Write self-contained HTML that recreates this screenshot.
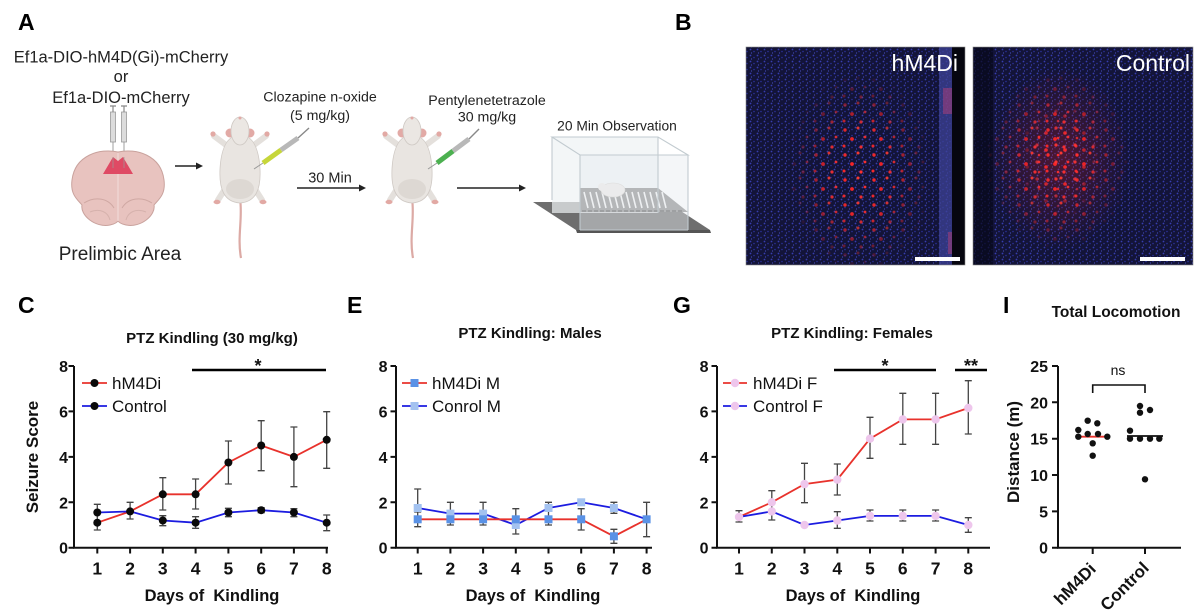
<!DOCTYPE html>
<html><head><meta charset="utf-8"><style>html,body{margin:0;padding:0;background:#fff}svg{display:block}</style></head>
<body>
<svg width="1200" height="612" viewBox="0 0 1200 612" xmlns="http://www.w3.org/2000/svg" font-family="'Liberation Sans', Arial, sans-serif">
<defs>
<pattern id="nuc" width="7" height="6" patternUnits="userSpaceOnUse">
<rect width="7" height="6" fill="#131438"/>
<circle cx="1.5" cy="1.5" r="0.9" fill="#373db0"/>
<circle cx="5" cy="3.5" r="0.8" fill="#2a309a"/>
<circle cx="2.5" cy="5" r="0.6" fill="#454bb8"/>
</pattern>
<pattern id="rd" width="29" height="25" patternUnits="userSpaceOnUse">
<circle cx="4" cy="5" r="1.7" fill="#ff2a2a"/>
<circle cx="17" cy="3" r="1.5" fill="#ff3a30"/>
<circle cx="11" cy="14" r="1.9" fill="#ff2525"/>
<circle cx="24" cy="12" r="1.4" fill="#ff3030"/>
<circle cx="3" cy="21" r="1.5" fill="#ff2a2a"/>
<circle cx="20" cy="22" r="1.6" fill="#ff3030"/>
</pattern>
<pattern id="rd2" x="7" y="5" width="19" height="17" patternUnits="userSpaceOnUse">
<circle cx="4" cy="4" r="1.6" fill="#ff3535"/>
<circle cx="13" cy="9" r="1.8" fill="#ff2a2a"/>
<circle cx="6" cy="14" r="1.3" fill="#ff3030"/>
</pattern>
<radialGradient id="fade"><stop offset="0" stop-color="#fff"/><stop offset="0.45" stop-color="#ddd"/><stop offset="1" stop-color="#000"/></radialGradient>
<radialGradient id="glow"><stop offset="0" stop-color="#ff2020" stop-opacity="0.25"/><stop offset="1" stop-color="#ff2020" stop-opacity="0"/></radialGradient>
<mask id="mL"><rect x="746" y="47" width="219" height="218" fill="#000"/><ellipse cx="860" cy="172" rx="72" ry="100" fill="url(#fade)"/></mask>
<mask id="mR"><rect x="973" y="47" width="220" height="218" fill="#000"/><ellipse cx="1058" cy="160" rx="72" ry="90" fill="url(#fade)"/></mask>
<mask id="mR2"><rect x="973" y="47" width="220" height="218" fill="#000"/><ellipse cx="1060" cy="158" rx="42" ry="62" fill="url(#fade)"/></mask>
<g id="mouse">
<path d="M0 82 C 3 100, -3 120, 1 141" stroke="#dcaaa5" stroke-width="2.2" fill="none"/>
<path d="M-14 28 L-26 19 M14 28 L26 19" stroke="#e4e0dc" stroke-width="6" stroke-linecap="round"/>
<circle cx="-27" cy="17" r="2.6" fill="#e2a9a4"/><circle cx="27" cy="17" r="2.6" fill="#e2a9a4"/>
<path d="M-15 72 L-22 83 M15 72 L22 83" stroke="#e4e0dc" stroke-width="6" stroke-linecap="round"/>
<ellipse cx="-23" cy="85" rx="3.5" ry="2.2" fill="#e2a9a4"/><ellipse cx="23" cy="85" rx="3.5" ry="2.2" fill="#e2a9a4"/>
<path d="M0 18 C 14 18, 19 34, 20 52 C 21 72, 16 85, 0 86 C -16 85, -21 72, -20 52 C -19 34, -14 18, 0 18 Z" fill="#e9e5e1" stroke="#cfc9c4" stroke-width="0.8"/>
<ellipse cx="0" cy="72" rx="14" ry="10" fill="#ddd8d3"/>
<circle cx="-10" cy="16" r="4.5" fill="#e2aaa6"/><circle cx="10" cy="16" r="4.5" fill="#e2aaa6"/>
<ellipse cx="0" cy="14" rx="9" ry="14" fill="#ebe7e3" stroke="#cfc9c4" stroke-width="0.8"/>
<circle cx="0" cy="1" r="1.5" fill="#e2aaa6"/>
</g>
</defs>
<rect width="1200" height="612" fill="#fff"/>

<!-- panel letters -->
<g font-weight="bold" font-size="23" fill="#000">
<text x="18" y="30">A</text><text x="675" y="30">B</text>
<text x="18" y="313">C</text><text x="347" y="313">E</text>
<text x="673" y="313">G</text><text x="1003" y="313">I</text>
</g>

<!-- Panel A text -->
<g fill="#222" text-anchor="middle">
<text x="121" y="62.5" font-size="16.5">Ef1a-DIO-hM4D(Gi)-mCherry</text>
<text x="121" y="82" font-size="16.5">or</text>
<text x="121" y="103" font-size="16.5">Ef1a-DIO-mCherry</text>
<text x="120" y="260" font-size="19">Prelimbic Area</text>
<text x="320" y="101.5" font-size="14.2">Clozapine n-oxide</text>
<text x="320" y="120" font-size="14.2">(5 mg/kg)</text>
<text x="330" y="182.5" font-size="14.5">30 Min</text>
<text x="487" y="105" font-size="14.2">Pentylenetetrazole</text>
<text x="487" y="121.5" font-size="14.2">30 mg/kg</text>
<text x="617" y="130.5" font-size="13.8">20 Min Observation</text>
</g>

<!-- brain syringes -->
<g>
<path d="M113 142V165M124 142V165" stroke="#888" stroke-width="0.8"/>
<rect x="110.5" y="112" width="5" height="30" fill="#dcdcdc" stroke="#999" stroke-width="0.8"/>
<rect x="121.5" y="112" width="5" height="30" fill="#dcdcdc" stroke="#999" stroke-width="0.8"/>
<path d="M113 106V112M124 106V112M110 106H116M121 106H127" stroke="#888" stroke-width="1.2"/>
</g>
<!-- brain -->
<path d="M118 152 C 100 148, 75 155, 72 180 C 70 195, 78 200, 82 205 C 80 215, 95 228, 110 225 C 115 224, 118 222, 118 220 C 118 222, 121 224, 126 225 C 141 228, 156 215, 154 205 C 158 200, 166 195, 164 180 C 161 155, 136 148, 118 152 Z" fill="#e8c3bf" stroke="#c9a29d" stroke-width="1"/>
<path d="M84 203 C 95 196, 108 198, 114 208 M152 203 C 141 196, 128 198, 122 208" stroke="#cfa8a3" stroke-width="1" fill="none"/>
<path d="M90 212 C 100 208, 108 212, 110 220 M146 212 C 136 208, 128 212, 126 220" stroke="#d6b2ad" stroke-width="1" fill="none"/>
<path d="M118 153V221" stroke="#f2dedb" stroke-width="1"/>
<polygon points="103,174 113,157 118,161 123,157 133,174" fill="#df4a64"/>
<path d="M113 157V168M124 157V168" stroke="#9a9a9a" stroke-width="0.7"/>

<!-- arrows -->
<g stroke="#222" stroke-width="1.4" fill="#222">
<path d="M175 166H198"/><polygon points="203,166 196,162.5 196,169.5" stroke="none"/>
<path d="M297 188H360"/><polygon points="366,188 359,184.5 359,191.5" stroke="none"/>
<path d="M457 188H520"/><polygon points="526,188 519,184.5 519,191.5" stroke="none"/>
</g>

<!-- mice -->
<use href="#mouse" transform="translate(240,117)"/>
<use href="#mouse" transform="translate(412,117)"/>
<!-- syringe 1 -->
<path d="M254 169L263 163" stroke="#999" stroke-width="1"/>
<path d="M263 163L281 150" stroke="#c6d63a" stroke-width="5"/>
<path d="M281 150L298 138" stroke="#b8b8b8" stroke-width="5"/>
<path d="M298 138L309 128" stroke="#888" stroke-width="1.4"/>
<!-- syringe 2 -->
<path d="M428 169L437 163" stroke="#999" stroke-width="1"/>
<path d="M437 163L453 151" stroke="#4cb050" stroke-width="5"/>
<path d="M453 151L469 139" stroke="#b8b8b8" stroke-width="5"/>
<path d="M469 139L479 129" stroke="#888" stroke-width="1.4"/>

<!-- cage -->
<polygon points="533,202 667,202 710,230 576,230" fill="#6e6e6e"/>
<polygon points="576,230 710,230 711,233 577,233" fill="#555"/>
<rect x="552" y="137" width="106" height="76" fill="#eef2f4" opacity="0.7"/>
<polygon points="580,188 658,188 688,212 580,212" fill="#8a8a8a"/>
<g stroke="#f4f4f4" stroke-width="1.6">
<path d="M584 192l4 16M590 192l4 16M596 192l4 16M602 192l4 16M608 192l4 16M614 192l4 16M620 192l4 16M626 192l4 16M632 192l4 16M638 192l4 16M644 192l4 16M650 192l4 16M656 192l4 16M662 192l4 16"/>
</g>
<path d="M582 211H683" stroke="#555" stroke-width="1.5" stroke-dasharray="4 2"/>
<ellipse cx="613" cy="190" rx="12" ry="7" fill="#efece9" stroke="#d4cfcb" stroke-width="0.6"/>
<circle cx="602" cy="187" r="4" fill="#efece9"/>
<polygon points="580,155 688,155 688,230 580,230" fill="#e6ecef" opacity="0.45"/>
<g stroke="#c2cbd0" stroke-width="1.1" fill="none">
<path d="M552 137H658L688 155H580Z"/>
<path d="M552 137V200M580 155V230M658 137V213M688 155V230M580 230H688"/>
</g>

<!-- Panel B images -->
<rect x="746" y="47" width="219" height="218" fill="url(#nuc)"/>
<rect x="939" y="47" width="13" height="218" fill="#3d4296" opacity="0.75"/>
<rect x="943" y="88" width="9" height="26" fill="#a8407a" opacity="0.55"/>
<rect x="948" y="232" width="4" height="22" fill="#a8407a" opacity="0.55"/>
<rect x="952" y="47" width="13" height="218" fill="#06060f"/>
<rect x="746" y="47" width="206" height="218" fill="url(#rd)" mask="url(#mL)"/>
<text x="958" y="71" font-size="23" fill="#fff" text-anchor="end">hM4Di</text>
<rect x="915" y="257" width="45" height="4" fill="#fff"/>
<rect x="746" y="47" width="219" height="218" fill="none" stroke="#888" stroke-width="0.6"/>

<rect x="973" y="47" width="220" height="218" fill="url(#nuc)"/>
<rect x="973" y="47" width="20" height="218" fill="#07071a" opacity="0.7"/>
<ellipse cx="1060" cy="158" rx="70" ry="90" fill="url(#glow)"/>
<rect x="973" y="47" width="220" height="218" fill="url(#rd)" mask="url(#mR)"/>
<rect x="973" y="47" width="220" height="218" fill="url(#rd2)" mask="url(#mR2)"/>
<text x="1190" y="71" font-size="23" fill="#fff" text-anchor="end">Control</text>
<rect x="1140" y="257" width="45" height="4" fill="#fff"/>
<rect x="973" y="47" width="220" height="218" fill="none" stroke="#888" stroke-width="0.6"/>

<!-- ===== Panel C ===== -->
<g font-weight="bold" fill="#111">
<text x="212" y="343" font-size="15" text-anchor="middle">PTZ Kindling (30 mg/kg)</text>
<g font-size="16" text-anchor="end">
<text x="68" y="372">8</text><text x="68" y="417.4">6</text><text x="68" y="462.9">4</text><text x="68" y="508.3">2</text><text x="68" y="553.7">0</text>
</g>
<g font-size="17.5" text-anchor="middle">
<text x="97.3" y="574.5">1</text><text x="130.1" y="574.5">2</text><text x="162.8" y="574.5">3</text><text x="195.6" y="574.5">4</text><text x="228.4" y="574.5">5</text><text x="261.2" y="574.5">6</text><text x="293.9" y="574.5">7</text><text x="326.7" y="574.5">8</text>
</g>
<text x="212" y="601" font-size="16.5" text-anchor="middle" xml:space="preserve">Days of  Kindling</text>
<text transform="translate(38,457) rotate(-90)" font-size="17" text-anchor="middle">Seizure Score</text>
<text x="258" y="372" font-size="18" text-anchor="middle">*</text>
</g>
<path d="M192 370H326" stroke="#000" stroke-width="2.5"/>
<path d="M74 366V547.7H328" stroke="#111" stroke-width="2" fill="none"/>
<path d="M68.5 366H74M68.5 411.4H74M68.5 456.9H74M68.5 502.3H74M68.5 547.7H74M97.3 547.7V553.5M130.1 547.7V553.5M162.8 547.7V553.5M195.6 547.7V553.5M228.4 547.7V553.5M261.2 547.7V553.5M293.9 547.7V553.5M326.7 547.7V553.5" stroke="#111" stroke-width="2"/>
<g stroke="#444" stroke-width="1.3" fill="none">
<path d="M97.3 504.3V521M93.8 504.3H100.8M93.8 521H100.8M97.3 515V530M93.8 530H100.8"/>
<path d="M130.1 502.3V519M126.6 502.3H133.6M126.6 519H133.6"/>
<path d="M162.8 477.7V510M159.3 477.7H166.3M159.3 510H166.3M162.8 515.7V525.7M159.3 515.7H166.3M159.3 525.7H166.3"/>
<path d="M195.6 479V509M192.1 479H199.1M192.1 509H199.1M195.6 516.7V528.3M192.1 516.7H199.1M192.1 528.3H199.1"/>
<path d="M228.4 441V484M224.9 441H231.9M224.9 484H231.9M228.4 508.3V516.7M224.9 508.3H231.9M224.9 516.7H231.9"/>
<path d="M261.2 420.7V470.7M257.7 420.7H264.7M257.7 470.7H264.7M261.2 507.7V512.7M257.7 507.7H264.7M257.7 512.7H264.7"/>
<path d="M293.9 427V486.7M290.4 427H297.4M290.4 486.7H297.4M293.9 508.7V516.7M290.4 508.7H297.4M290.4 516.7H297.4"/>
<path d="M326.7 411.7V468.3M323.2 411.7H330.2M323.2 468.3H330.2M326.7 515V530.7M323.2 515H330.2M323.2 530.7H330.2"/>
</g>
<polyline points="97.3,522.7 130.1,511.4 162.8,494.3 195.6,494.3 228.4,462.5 261.2,445.5 293.9,456.9 326.7,439.8" fill="none" stroke="#e8322c" stroke-width="1.8"/>
<polyline points="97.3,512.5 130.1,511.4 162.8,520.5 195.6,522.7 228.4,512.5 261.2,510.2 293.9,512.5 326.7,522.7" fill="none" stroke="#1c1ce0" stroke-width="1.8"/>
<g fill="#0a0a0a">
<circle cx="97.3" cy="522.7" r="4"/><circle cx="130.1" cy="511.4" r="4"/><circle cx="162.8" cy="494.3" r="4"/><circle cx="195.6" cy="494.3" r="4"/><circle cx="228.4" cy="462.5" r="4"/><circle cx="261.2" cy="445.5" r="4"/><circle cx="293.9" cy="456.9" r="4"/><circle cx="326.7" cy="439.8" r="4"/>
<circle cx="97.3" cy="512.5" r="4"/><circle cx="162.8" cy="520.5" r="4"/><circle cx="195.6" cy="522.7" r="4"/><circle cx="228.4" cy="512.5" r="4"/><circle cx="261.2" cy="510.2" r="4"/><circle cx="293.9" cy="512.5" r="4"/><circle cx="326.7" cy="522.7" r="4"/>
</g>
<path d="M82 383H107" stroke="#e8322c" stroke-width="1.8"/><circle cx="94.5" cy="383" r="4" fill="#0a0a0a"/>
<path d="M82 406H107" stroke="#1c1ce0" stroke-width="1.8"/><circle cx="94.5" cy="406" r="4" fill="#0a0a0a"/>
<text x="112" y="389" font-size="17" fill="#111">hM4Di</text>
<text x="112" y="412" font-size="17" fill="#111">Control</text>

<!-- ===== Panel E ===== -->
<g font-weight="bold" fill="#111">
<text x="530" y="338" font-size="15" text-anchor="middle">PTZ Kindling: Males</text>
<g font-size="16" text-anchor="end">
<text x="387.5" y="372">8</text><text x="387.5" y="417.4">6</text><text x="387.5" y="462.9">4</text><text x="387.5" y="508.3">2</text><text x="387.5" y="553.7">0</text>
</g>
<g font-size="17.5" text-anchor="middle">
<text x="417.7" y="574.5">1</text><text x="450.4" y="574.5">2</text><text x="483.1" y="574.5">3</text><text x="515.8" y="574.5">4</text><text x="548.5" y="574.5">5</text><text x="581.2" y="574.5">6</text><text x="613.9" y="574.5">7</text><text x="646.6" y="574.5">8</text>
</g>
<text x="533" y="601" font-size="16.5" text-anchor="middle" xml:space="preserve">Days of  Kindling</text>
</g>
<path d="M396 366V547.7H652" stroke="#111" stroke-width="2" fill="none"/>
<path d="M390.5 366H396M390.5 411.4H396M390.5 456.9H396M390.5 502.3H396M390.5 547.7H396M417.7 547.7V553.5M450.4 547.7V553.5M483.1 547.7V553.5M515.8 547.7V553.5M548.5 547.7V553.5M581.2 547.7V553.5M613.9 547.7V553.5M646.6 547.7V553.5" stroke="#111" stroke-width="2"/>
<g stroke="#444" stroke-width="1.3" fill="none">
<path d="M417.7 489V526.7M414.2 489H421.2M414.2 526.7H421.2M414.2 512H421.2"/>
<path d="M450.4 502.3V525M446.9 502.3H453.9M446.9 525H453.9"/>
<path d="M483.1 502.3V525M479.6 502.3H486.6M479.6 525H486.6"/>
<path d="M515.8 508.7V534M512.3 508.7H519.3M512.3 534H519.3"/>
<path d="M548.5 502.3V525M545 502.3H552M545 525H552"/>
<path d="M581.2 508.7V530M577.7 508.7H584.7M577.7 530H584.7"/>
<path d="M613.9 502.3V513.3M610.4 502.3H617.4M610.4 513.3H617.4M613.9 529.3V543.3M610.4 529.3H617.4M610.4 543.3H617.4"/>
<path d="M646.6 502.3V536.7M643.1 502.3H650.1M643.1 536.7H650.1"/>
</g>
<polyline points="417.7,508 450.4,513.6 483.1,513.6 515.8,525 548.5,508 581.2,502.3 613.9,508 646.6,519.3" fill="none" stroke="#1c1ce0" stroke-width="1.8"/>
<polyline points="417.7,519.3 450.4,519.3 483.1,519.3 515.8,519.3 548.5,519.3 581.2,519.3 613.9,536.3 646.6,519.3" fill="none" stroke="#e8322c" stroke-width="1.8"/>
<g fill="#a3c2f0">
<rect x="413.7" y="504" width="8" height="8"/><rect x="446.4" y="509.6" width="8" height="8"/><rect x="479.1" y="509.6" width="8" height="8"/><rect x="511.8" y="521" width="8" height="8"/><rect x="544.5" y="504" width="8" height="8"/><rect x="577.2" y="498.3" width="8" height="8"/><rect x="609.9" y="504" width="8" height="8"/>
</g>
<g fill="#5a92e6">
<rect x="413.7" y="515.3" width="8" height="8"/><rect x="446.4" y="515.3" width="8" height="8"/><rect x="479.1" y="515.3" width="8" height="8"/><rect x="511.8" y="515.3" width="8" height="8"/><rect x="544.5" y="515.3" width="8" height="8"/><rect x="577.2" y="515.3" width="8" height="8"/><rect x="609.9" y="532.3" width="8" height="8"/><rect x="642.6" y="515.3" width="8" height="8"/>
</g>
<path d="M402 383H427" stroke="#e8322c" stroke-width="1.8"/><rect x="410.5" y="379" width="8" height="8" fill="#5a92e6"/>
<path d="M402 406H427" stroke="#1c1ce0" stroke-width="1.8"/><rect x="410.5" y="402" width="8" height="8" fill="#a3c2f0"/>
<text x="432" y="389" font-size="17" fill="#111">hM4Di M</text>
<text x="432" y="412" font-size="17" fill="#111">Conrol M</text>

<!-- ===== Panel G ===== -->
<g font-weight="bold" fill="#111">
<text x="852" y="338" font-size="15" text-anchor="middle">PTZ Kindling: Females</text>
<g font-size="16" text-anchor="end">
<text x="708.5" y="372">8</text><text x="708.5" y="417.4">6</text><text x="708.5" y="462.9">4</text><text x="708.5" y="508.3">2</text><text x="708.5" y="553.7">0</text>
</g>
<g font-size="17.5" text-anchor="middle">
<text x="739" y="574.5">1</text><text x="771.8" y="574.5">2</text><text x="804.5" y="574.5">3</text><text x="837.3" y="574.5">4</text><text x="870" y="574.5">5</text><text x="902.8" y="574.5">6</text><text x="935.6" y="574.5">7</text><text x="968.3" y="574.5">8</text>
</g>
<text x="853" y="601" font-size="16.5" text-anchor="middle" xml:space="preserve">Days of  Kindling</text>
<text x="885" y="372" font-size="18" text-anchor="middle">*</text>
<text x="971" y="372" font-size="18" text-anchor="middle">**</text>
</g>
<path d="M834 370H936M955 370H987" stroke="#000" stroke-width="2.5"/>
<path d="M717 366V547.7H990" stroke="#111" stroke-width="2" fill="none"/>
<path d="M711.5 366H717M711.5 411.4H717M711.5 456.9H717M711.5 502.3H717M711.5 547.7H717M739 547.7V553.5M771.8 547.7V553.5M804.5 547.7V553.5M837.3 547.7V553.5M870 547.7V553.5M902.8 547.7V553.5M935.6 547.7V553.5M968.3 547.7V553.5" stroke="#111" stroke-width="2"/>
<g stroke="#444" stroke-width="1.3" fill="none">
<path d="M739 510.7V522M735.5 510.7H742.5M735.5 522H742.5"/>
<path d="M771.8 490.7V520M768.3 490.7H775.3M768.3 520H775.3"/>
<path d="M804.5 463.3V502.7M801 463.3H808M801 502.7H808"/>
<path d="M837.3 464V495M833.8 464H840.8M833.8 495H840.8M837.3 511.7V528.3M833.8 511.7H840.8M833.8 528.3H840.8"/>
<path d="M870 417.3V458.3M866.5 417.3H873.5M866.5 458.3H873.5M870 510V521M866.5 510H873.5M866.5 521H873.5"/>
<path d="M902.8 393.3V444.3M899.3 393.3H906.3M899.3 444.3H906.3M902.8 510V521M899.3 510H906.3M899.3 521H906.3"/>
<path d="M935.6 393.3V444.3M932.1 393.3H939.1M932.1 444.3H939.1M935.6 510V521M932.1 510H939.1M932.1 521H939.1"/>
<path d="M968.3 380.7V434M964.8 380.7H971.8M964.8 434H971.8M968.3 517.7V532.3M964.8 517.7H971.8M964.8 532.3H971.8"/>
</g>
<polyline points="739,517 771.8,502.3 804.5,484.1 837.3,479.6 870,438.7 902.8,419.4 935.6,419.4 968.3,408" fill="none" stroke="#e8322c" stroke-width="1.8"/>
<polyline points="739,517 771.8,511.4 804.5,525 837.3,520.5 870,515.9 902.8,515.9 935.6,515.9 968.3,525" fill="none" stroke="#1c1ce0" stroke-width="1.8"/>
<g fill="#eec6ec">
<circle cx="739" cy="517" r="4.2"/><circle cx="771.8" cy="502.3" r="4.2"/><circle cx="804.5" cy="484.1" r="4.2"/><circle cx="837.3" cy="479.6" r="4.2"/><circle cx="870" cy="438.7" r="4.2"/><circle cx="902.8" cy="419.4" r="4.2"/><circle cx="935.6" cy="419.4" r="4.2"/><circle cx="968.3" cy="408" r="4.2"/>
<circle cx="771.8" cy="511.4" r="4.2"/><circle cx="804.5" cy="525" r="4.2"/><circle cx="837.3" cy="520.5" r="4.2"/><circle cx="870" cy="515.9" r="4.2"/><circle cx="902.8" cy="515.9" r="4.2"/><circle cx="935.6" cy="515.9" r="4.2"/><circle cx="968.3" cy="525" r="4.2"/>
</g>
<path d="M723 383H747" stroke="#e8322c" stroke-width="1.8"/><circle cx="735" cy="383" r="4.2" fill="#eec6ec"/>
<path d="M723 406H747" stroke="#1c1ce0" stroke-width="1.8"/><circle cx="735" cy="406" r="4.2" fill="#eec6ec"/>
<text x="753" y="389" font-size="17" fill="#111">hM4Di F</text>
<text x="753" y="412" font-size="17" fill="#111">Control F</text>

<!-- ===== Panel I ===== -->
<g font-weight="bold" fill="#111">
<text x="1116" y="317" font-size="15.5" text-anchor="middle">Total Locomotion</text>
<g font-size="16" text-anchor="end">
<text x="1048" y="372">25</text><text x="1048" y="408.3">20</text><text x="1048" y="444.7">15</text><text x="1048" y="481">10</text><text x="1048" y="517.4">5</text><text x="1048" y="553.7">0</text>
</g>
<text transform="translate(1019,452) rotate(-90)" font-size="17" text-anchor="middle">Distance (m)</text>
<text transform="translate(1097,570) rotate(-45)" font-size="17" text-anchor="end">hM4Di</text>
<text transform="translate(1150,569) rotate(-45)" font-size="17" text-anchor="end">Control</text>
</g>
<path d="M1058 366V547.7H1181" stroke="#111" stroke-width="2" fill="none"/>
<path d="M1052 366H1058M1052 402.3H1058M1052 438.7H1058M1052 475H1058M1052 511.4H1058M1052 547.7H1058M1092.7 547.7V554M1145 547.7V554" stroke="#111" stroke-width="2"/>
<path d="M1092.7 393V385H1145V393" stroke="#111" stroke-width="1.6" fill="none"/>
<text x="1118" y="375" font-size="14" text-anchor="middle" fill="#111">ns</text>
<path d="M1076 436.7H1110" stroke="#e8322c" stroke-width="1.8"/>
<path d="M1127 436H1163" stroke="#111" stroke-width="1.8"/>
<g fill="#111">
<circle cx="1087.7" cy="420.7" r="3.2"/><circle cx="1097.3" cy="423.3" r="3.2"/><circle cx="1078.3" cy="430" r="3.2"/><circle cx="1078.3" cy="436.7" r="3.2"/><circle cx="1087.7" cy="434" r="3.2"/><circle cx="1098" cy="434" r="3.2"/><circle cx="1107.3" cy="436.7" r="3.2"/><circle cx="1092.7" cy="443.3" r="3.2"/><circle cx="1092.7" cy="455.7" r="3.2"/>
<circle cx="1140" cy="406" r="3.2"/><circle cx="1150" cy="410" r="3.2"/><circle cx="1140" cy="412.7" r="3.2"/><circle cx="1130" cy="430.7" r="3.2"/><circle cx="1130" cy="438.7" r="3.2"/><circle cx="1140" cy="438.7" r="3.2"/><circle cx="1150" cy="438.7" r="3.2"/><circle cx="1159.3" cy="438.7" r="3.2"/><circle cx="1145" cy="479.3" r="3.2"/>
</g>
</svg>
</body></html>
